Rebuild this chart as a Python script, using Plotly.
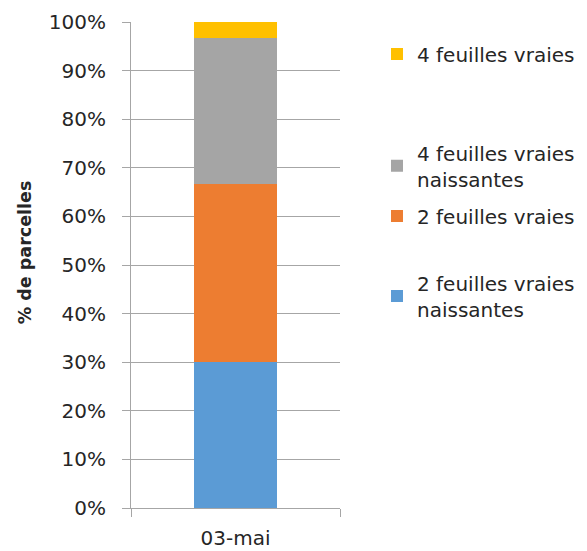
import plotly.graph_objects as go

categories = ["03-mai"]
series_names = ["2 feuilles vraies<br>naissantes", "2 feuilles vraies",
                "4 feuilles vraies<br>naissantes", "4 feuilles vraies"]
series_values = [[30.0], [36.67], [30.0], [3.33]]
colors = ["#5b9bd5", "#ed7d31", "#a5a5a5", "#ffc000"]
y_ticks = [0, 10, 20, 30, 40, 50, 60, 70, 80, 90, 100]
y_tick_labels = [f"{v}%" for v in y_ticks]
y_title = "% de parcelles"

legend_ids = ["legend4", "legend3", "legend2", "legend"]
legend_y = {"legend": 0.934, "legend2": 0.704, "legend3": 0.601, "legend4": 0.436}

font_family = "DejaVu Sans, sans-serif"
text_color = "#262626"
FS = 20

fig = go.Figure()
for name, vals, col, lg in zip(series_names, series_values, colors, legend_ids):
    fig.add_trace(go.Bar(x=categories, y=vals, name=name, marker_color=col,
                         marker_line_width=0, width=0.4, legend=lg))

legend_common = dict(x=1.177, xanchor="left", yanchor="middle",
                     font=dict(size=FS, color=text_color, family=font_family),
                     itemwidth=30, bgcolor="rgba(0,0,0,0)")
layout_legends = {k: dict(legend_common, y=v) for k, v in legend_y.items()}

fig.update_layout(
    barmode="stack",
    width=587, height=551,
    margin=dict(l=123, r=255, t=14, b=51, autoexpand=False),
    paper_bgcolor="white", plot_bgcolor="white",
    font=dict(family=font_family, size=FS, color=text_color),
    showlegend=True,
    **layout_legends,
)
fig.add_annotation(text=f"<b>{y_title}</b>", textangle=-90,
                   xref="paper", yref="paper", x=-0.51, y=0.527,
                   xanchor="center", yanchor="middle", showarrow=False,
                   font=dict(size=17.5, family=font_family, color=text_color))
fig.update_yaxes(range=[0, 100], tickvals=y_ticks, ticktext=y_tick_labels,
                 showgrid=True, gridcolor="#a6a6a6", gridwidth=1,
                 showline=True, linecolor="#a6a6a6", linewidth=1,
                 ticks="outside", ticklen=8, tickcolor="#a6a6a6",
                 ticklabelstandoff=12, zeroline=False)
fig.update_xaxes(showline=True, linecolor="#a6a6a6", linewidth=1,
                 ticks="outside", ticklen=8, tickcolor="#a6a6a6",
                 tickson="boundaries", showgrid=False, ticklabelstandoff=12)

fig.write_html("out.html")
